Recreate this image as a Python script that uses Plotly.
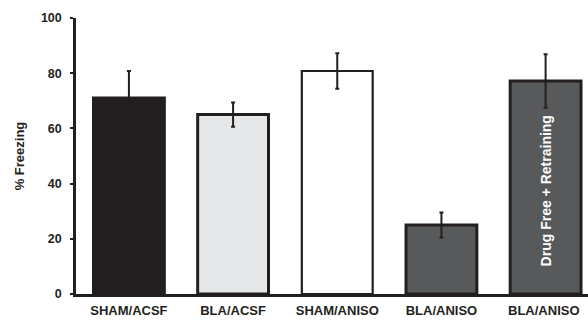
import plotly.graph_objects as go

categories = ["SHAM/ACSF", "BLA/ACSF", "SHAM/ANISO", "BLA/ANISO", "BLA/ANISO "]
freezing = [71.0, 65.0, 80.8, 25.0, 77.2]
sem = [9.8, 4.4, 6.4, 4.5, 9.7]
bar_colors = ["#231f20", "#e6e7e8", "#ffffff", "#58595b", "#58595b"]
border_widths = [3, 3, 2.2, 3, 3]
y_ticks = [0, 20, 40, 60, 80, 100]
bar_note = "Drug Free + Retraining"

font_family = "Liberation Sans, Arial, sans-serif"
ink = "#231f20"

fig = go.Figure()
fig.add_trace(go.Bar(
    x=list(range(len(categories))),
    y=freezing,
    width=0.68,
    marker=dict(color=bar_colors, line=dict(color=ink, width=border_widths)),
    error_y=dict(type="data", array=sem, visible=True, color=ink, thickness=2, width=2),
    showlegend=False,
    hoverinfo="skip",
))

fig.add_annotation(
    x=4, y=freezing[4] / 2 - 1.2, text=bar_note, textangle=-90,
    showarrow=False, xref="x", yref="y",
    font=dict(family=font_family, size=14, color="#ffffff", weight="bold"),
)

fig.update_layout(
    width=588, height=320,
    margin=dict(l=76, r=0, t=18, b=26),
    paper_bgcolor="white", plot_bgcolor="white",
    font=dict(family=font_family, color=ink, weight="bold"),
    xaxis=dict(
        range=[-0.508, 4.407], automargin=False,
        tickmode="array", tickvals=list(range(len(categories))), ticktext=categories,
        tickfont=dict(size=13, family=font_family, color=ink, weight="bold"),
        ticklabelstandoff=3,
        showline=True, linecolor=ink, linewidth=2.5,
        ticks="", showgrid=False, zeroline=False, fixedrange=True,
    ),
    yaxis=dict(
        range=[0, 100], tickvals=y_ticks, automargin=False,
        tickfont=dict(size=12.5, family=font_family, color=ink, weight="bold"),
        ticklabelstandoff=6,
        showline=True, linecolor=ink, linewidth=2.5,
        ticks="outside", ticklen=3, tickwidth=2, tickcolor=ink,
        showgrid=False, zeroline=False,
        title=dict(text="% Freezing", standoff=14,
                   font=dict(size=13, family=font_family, color=ink, weight="bold")),
    ),
)

fig.write_html("out.html")
